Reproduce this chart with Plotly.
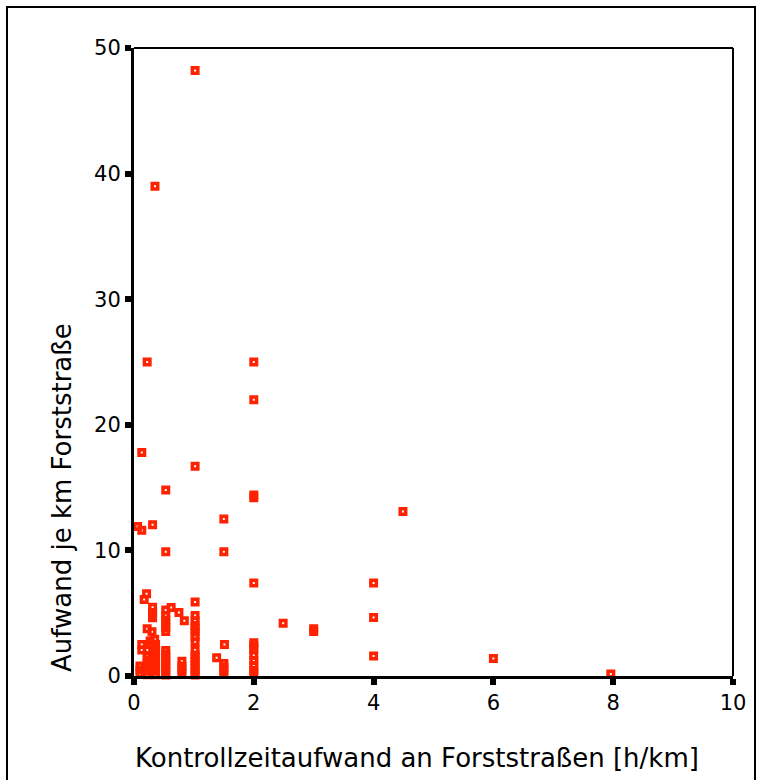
import plotly.graph_objects as go

# ---- data ----
x_vals = [
    1.02, 0.35, 0.22, 2.0, 2.0, 0.13, 1.02, 0.53, 2.0, 2.0, 4.49, 1.5, 0.31, 0.13, 0.06,
    0.53, 1.5, 2.0, 4.0, 0.21, 0.17, 0.62, 0.75, 0.84, 4.0, 2.49, 3.0, 3.0, 4.0, 6.0, 7.96,
    1.38, 1.51,
    0.31, 0.31, 0.31, 0.31,
    0.53, 0.53, 0.53, 0.53, 0.53, 0.53,
    0.53, 0.53, 0.53, 0.53, 0.53, 0.53, 0.53, 0.53,
    1.02, 1.02, 1.02, 1.02, 1.02, 1.02, 1.02, 1.02, 1.02, 1.02, 1.02, 1.02, 1.02, 1.02, 1.02, 1.02,
    0.8, 0.8, 0.8, 0.8,
    1.5, 1.5, 1.5, 1.5,
    2.0, 2.0, 2.0, 2.0, 2.0, 2.0, 2.0, 2.0,
    0.13, 0.13, 0.22, 0.22, 0.30, 0.345, 0.27, 0.27,
    0.1, 0.1, 0.1,
    0.22, 0.22, 0.22, 0.22, 0.22, 0.22,
    0.36, 0.36, 0.36, 0.36, 0.36, 0.36, 0.36, 0.36, 0.36,
]
y_vals = [
    48.2, 39.0, 25.0, 25.0, 22.0, 17.8, 16.7, 14.8, 14.42, 14.2, 13.1, 12.5, 12.05, 11.6, 11.9,
    9.9, 9.9, 7.4, 7.4, 6.55, 6.1, 5.45, 5.05, 4.4, 4.65, 4.2, 3.76, 3.54, 1.6, 1.4, 0.15,
    1.46, 2.5,
    5.47, 5.05, 4.85, 4.63,
    5.25, 4.82, 4.45, 4.15, 3.85, 3.55,
    2.03, 1.75, 1.47, 1.19, 0.91, 0.64, 0.36, 0.08,
    5.9, 4.82, 4.4, 4.02, 3.78, 3.5, 3.13, 2.73, 2.07, 1.67, 1.43, 1.15, 0.88, 0.6, 0.32, 0.08,
    1.18, 0.8, 0.52, 0.24,
    1.0, 0.72, 0.44, 0.16,
    2.64, 2.39, 2.13, 1.64, 1.24, 0.84, 0.44, 0.2,
    2.51, 2.07, 2.07, 3.77, 3.53, 2.92, 2.79, 2.5,
    0.8, 0.5, 0.2,
    1.6, 1.3, 1.0, 0.7, 0.4, 0.1,
    2.5, 2.2, 1.9, 1.6, 1.3, 1.0, 0.7, 0.4, 0.1,
]
x_ticks = [0, 2, 4, 6, 8, 10]
y_ticks = [0, 10, 20, 30, 40, 50]
x_title = "Kontrollzeitaufwand an Forststraßen [h/km]"
y_title = "Aufwand je km Forststraße"

RED = "#ff2200"
FONT = "DejaVu Sans"

W, H = 761, 780
L, R, T, B = 134, 733, 48, 676  # plot area in pixels

fig = go.Figure()
fig.add_trace(go.Scatter(
    x=x_vals, y=y_vals, mode="markers",
    marker=dict(symbol="square-open", size=5.5, color=RED,
                line=dict(width=3.5, color=RED)),
    cliponaxis=False, showlegend=False, hoverinfo="x+y",
))

def px_x(p):
    return (p - L) / (R - L)

def px_y(p):
    return (B - p) / (B - T)

axis_common = dict(
    showgrid=False, zeroline=False, showline=True, linecolor="black", linewidth=3,
    ticks="outside", ticklen=6, tickwidth=6, tickcolor="black",
    tickfont=dict(family=FONT, size=21, color="black"),
    layer="above traces",
)

fig.update_layout(
    width=W, height=H,
    margin=dict(l=L, r=W - R, t=T, b=H - B, pad=0),
    paper_bgcolor="white", plot_bgcolor="white",
    xaxis=dict(range=[0, 10], tickvals=x_ticks, ticktext=[str(v) for v in x_ticks], **axis_common),
    yaxis=dict(range=[0, 50], tickvals=y_ticks, ticktext=[str(v) for v in y_ticks], **axis_common),
    shapes=[
        # top and right frame lines of the plot box
        dict(type="line", xref="paper", yref="paper", x0=0, x1=1, y0=1, y1=1,
             line=dict(color="black", width=2)),
        dict(type="line", xref="paper", yref="paper", x0=1, x1=1, y0=0, y1=1,
             line=dict(color="black", width=2)),
        # outer frame
        dict(type="rect", xref="paper", yref="paper",
             x0=px_x(7), x1=px_x(755), y0=px_y(800), y1=px_y(7),
             line=dict(color="black", width=2), fillcolor="rgba(0,0,0,0)"),
    ],
    annotations=[
        dict(text=x_title, xref="paper", yref="paper", x=px_x(417), y=px_y(758),
             xanchor="center", yanchor="middle", showarrow=False,
             font=dict(family=FONT, size=26, color="black")),
        dict(text=y_title, xref="paper", yref="paper", x=px_x(62), y=px_y(498),
             xanchor="center", yanchor="middle", showarrow=False, textangle=-90,
             font=dict(family=FONT, size=26, color="black")),
    ],
)

fig.write_html("out.html")
